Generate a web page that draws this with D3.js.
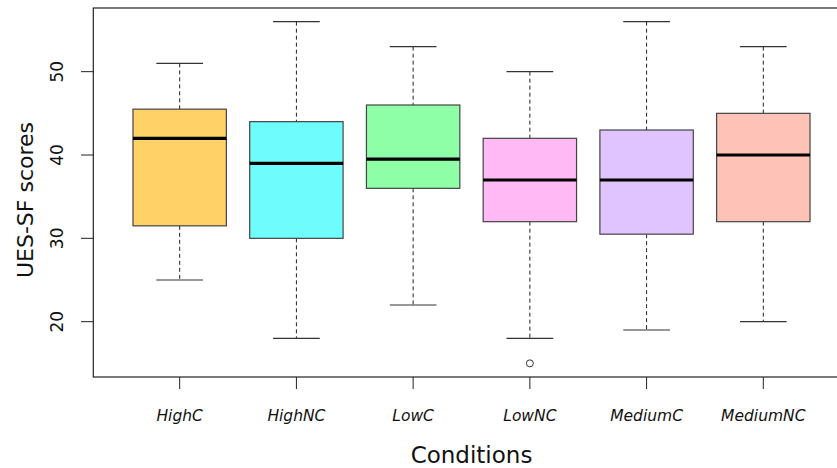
<!DOCTYPE html>
<html>
<head>
<meta charset="utf-8">
<script src="https://cdn.jsdelivr.net/npm/d3@7"></script>
<style>
  body { margin: 0; background: #fff; }
  text { font-family: "DejaVu Sans", Verdana, sans-serif; fill: #111; }
</style>
</head>
<body>
<svg width="837" height="468"></svg>
<script>
// data
var conditions = ["HighC", "HighNC", "LowC", "LowNC", "MediumC", "MediumNC"];
var lowWhisker = [25, 18, 22, 18, 19, 20];
var q1 = [31.5, 30, 36, 32, 30.5, 32];
var median = [42, 39, 39.5, 37, 37, 40];
var q3 = [45.5, 44, 46, 42, 43, 45];
var highWhisker = [51, 56, 53, 50, 56, 53];
var outliers = [[], [], [], [15], [], []];
var fills = ["#ffd166", "#6ffcfc", "#8effa6", "#ffbaf5", "#e0c4ff", "#ffc2b6"];
var yTicks = [20, 30, 40, 50];

var svg = d3.select("svg");

// plot region
var plotL = 93.3, plotR = 849.7, plotT = 8, plotB = 377;

var x = d3.scaleLinear().domain([0.26, 6.74]).range([plotL, plotR]);
var y = d3.scaleLinear().domain([13.36, 57.64]).range([plotB, plotT]);

var boxes = conditions.map(function(c, i) {
    return { name: c, i: i + 1, lo: lowWhisker[i], q1: q1[i], med: median[i],
             q3: q3[i], hi: highWhisker[i], out: outliers[i], fill: fills[i] };
});

var g = svg.append("g").attr("class", "boxes");

var box = g.selectAll(".box").data(boxes).enter().append("g").attr("class", "box");

// whiskers (dashed)
box.append("line")
    .attr("x1", function(d) { return x(d.i); })
    .attr("x2", function(d) { return x(d.i); })
    .attr("y1", function(d) { return y(d.hi); })
    .attr("y2", function(d) { return y(d.q3); })
    .attr("stroke", "#222").attr("stroke-dasharray", "4,3");
box.append("line")
    .attr("x1", function(d) { return x(d.i); })
    .attr("x2", function(d) { return x(d.i); })
    .attr("y1", function(d) { return y(d.q1); })
    .attr("y2", function(d) { return y(d.lo); })
    .attr("stroke", "#222").attr("stroke-dasharray", "4,3");

// caps
["hi", "lo"].forEach(function(k) {
    box.append("line")
        .attr("x1", function(d) { return x(d.i - 0.2); })
        .attr("x2", function(d) { return x(d.i + 0.2); })
        .attr("y1", function(d) { return y(d[k]); })
        .attr("y2", function(d) { return y(d[k]); })
        .attr("stroke", "#333").attr("stroke-width", 1.2);
});

// box
box.append("rect")
    .attr("x", function(d) { return x(d.i - 0.4); })
    .attr("width", function(d) { return x(d.i + 0.4) - x(d.i - 0.4); })
    .attr("y", function(d) { return y(d.q3); })
    .attr("height", function(d) { return y(d.q1) - y(d.q3); })
    .attr("fill", function(d) { return d.fill; })
    .attr("stroke", "#444").attr("stroke-width", 1.2);

// median
box.append("line")
    .attr("x1", function(d) { return x(d.i - 0.4); })
    .attr("x2", function(d) { return x(d.i + 0.4); })
    .attr("y1", function(d) { return y(d.med); })
    .attr("y2", function(d) { return y(d.med); })
    .attr("stroke", "#000").attr("stroke-width", 3.2);

// outliers
box.each(function(d) {
    d3.select(this).selectAll("circle").data(d.out).enter().append("circle")
        .attr("cx", x(d.i))
        .attr("cy", function(v) { return y(v); })
        .attr("r", 3.5)
        .attr("fill", "none").attr("stroke", "#333");
});

// frame
svg.append("rect")
    .attr("x", plotL).attr("y", plotT)
    .attr("width", plotR - plotL).attr("height", plotB - plotT)
    .attr("fill", "none").attr("stroke", "#222").attr("stroke-width", 1.2);

// y axis
var yAxis = svg.append("g").attr("class", "y axis");
yAxis.selectAll("line").data(yTicks).enter().append("line")
    .attr("x1", 81).attr("x2", plotL)
    .attr("y1", function(d) { return y(d); })
    .attr("y2", function(d) { return y(d); })
    .attr("stroke", "#222");
yAxis.selectAll("text").data(yTicks).enter().append("text")
    .attr("transform", function(d) { return "translate(63," + y(d) + ") rotate(-90)"; })
    .attr("text-anchor", "middle")
    .attr("font-size", 17)
    .text(function(d) { return d; });

// x axis
var xAxis = svg.append("g").attr("class", "x axis");
xAxis.selectAll("line").data(boxes).enter().append("line")
    .attr("x1", function(d) { return x(d.i); })
    .attr("x2", function(d) { return x(d.i); })
    .attr("y1", plotB).attr("y2", 389)
    .attr("stroke", "#222");
xAxis.selectAll("text").data(boxes).enter().append("text")
    .attr("x", function(d) { return x(d.i); })
    .attr("y", 421)
    .attr("text-anchor", "middle")
    .attr("font-size", 15.5)
    .attr("font-style", "italic")
    .text(function(d) { return d.name; });

// axis titles
svg.append("text")
    .attr("transform", "translate(33,200) rotate(-90)")
    .attr("text-anchor", "middle")
    .attr("font-size", 22)
    .text("UES-SF scores");
svg.append("text")
    .attr("x", 471.5)
    .attr("y", 463)
    .attr("text-anchor", "middle")
    .attr("font-size", 23)
    .text("Conditions");
</script>
</body>
</html>
